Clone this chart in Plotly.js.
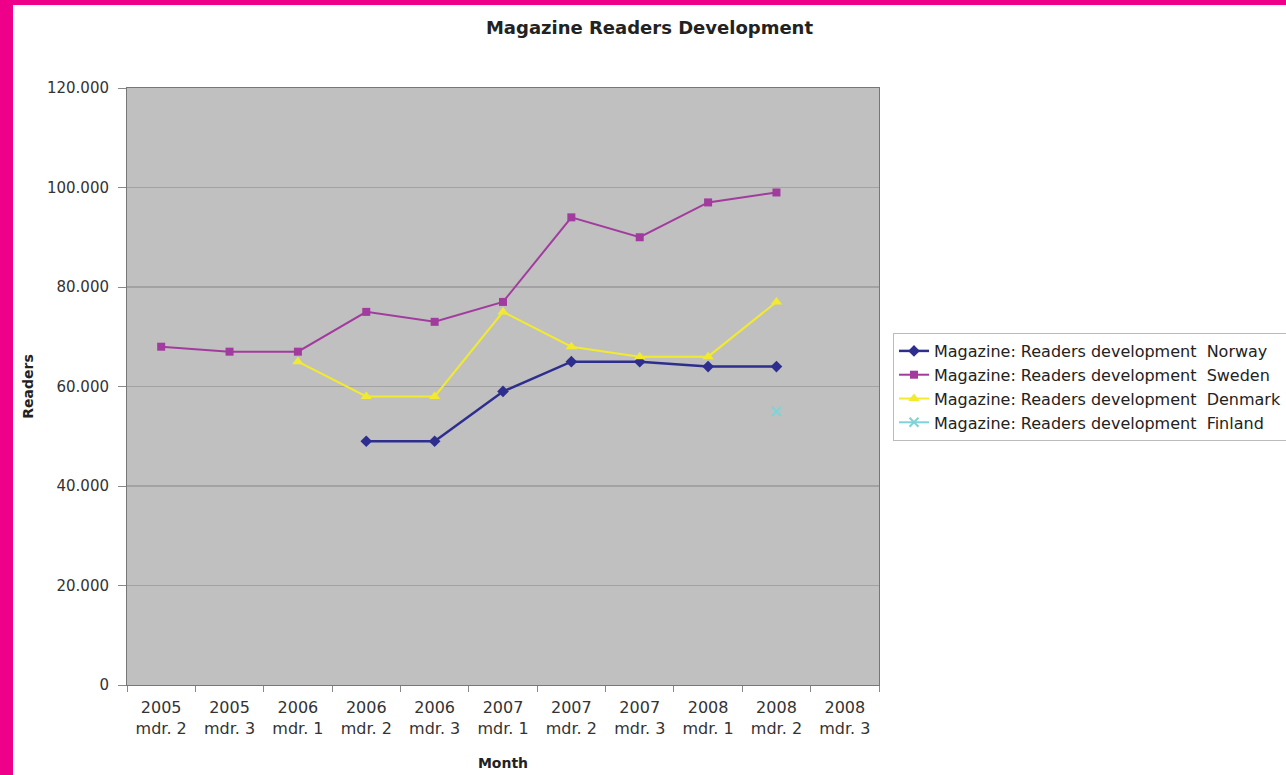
<!DOCTYPE html>
<html>
<head>
<meta charset="utf-8">
<script src="https://cdn.plot.ly/plotly-3.0.1.min.js"></script>
<style>
html,body{margin:0;padding:0;background:#EE0088;width:1286px;height:775px;overflow:hidden;}
#chart{position:absolute;left:13px;top:5px;width:1273px;height:770px;background:#fff;}
</style>
</head>
<body>
<div id="chart"></div>
<script>
const categories = ["2005<br>mdr. 2","2005<br>mdr. 3","2006<br>mdr. 1","2006<br>mdr. 2","2006<br>mdr. 3","2007<br>mdr. 1","2007<br>mdr. 2","2007<br>mdr. 3","2008<br>mdr. 1","2008<br>mdr. 2","2008<br>mdr. 3"];
const norway  = [null, null, null, 49000, 49000, 59000, 65000, 65000, 64000, 64000, null];
const sweden  = [68000, 67000, 67000, 75000, 73000, 77000, 94000, 90000, 97000, 99000, null];
const denmark = [null, null, 65000, 58000, 58000, 75000, 68000, 66000, 66000, 77000, null];
const finland = [null, null, null, null, null, null, null, null, null, 55000, null];
const seriesNames = ["Magazine: Readers development\u00a0 Norway","Magazine: Readers development\u00a0 Sweden","Magazine: Readers development\u00a0 Denmark","Magazine: Readers development\u00a0 Finland"];
const yTicks = [0, 20000, 40000, 60000, 80000, 100000, 120000];

const font = "DejaVu Sans, Verdana, sans-serif";
function tr(y, name, color, symbol, size){
  return {x: categories, y: y, name: name, type: 'scatter', mode: 'lines+markers',
    line: {color: color, width: 2}, marker: {color: color, symbol: symbol, size: size},
    connectgaps: false};
}
const data = [
  tr(norway, seriesNames[0], '#2E2E8E', 'diamond', 9),
  tr(sweden, seriesNames[1], '#A23B9E', 'square', 8),
  tr(denmark, seriesNames[2], '#F2EA2E', 'triangle-up', 10),
  tr(finland, seriesNames[3], '#7FD3D6', 'x-thin-open', 9)
];
data[0].line.width = 2.5;
data[3].marker.line = {color: '#7FD3D6', width: 2};

const layout = {
  width: 1273, height: 770,
  paper_bgcolor: '#ffffff', plot_bgcolor: '#C0C0C0',
  separators: ',.',
  margin: {l: 114, r: 407, t: 83, b: 90, autoexpand: false},
  font: {family: font, color: '#222', size: 14},
  title: {text: '<b>Magazine Readers Development</b>', font: {family: font, size: 18, color: '#222'}, x: 0.5, xref: 'container', xanchor: 'center', y: 0.971, yref: 'container', yanchor: 'middle'},
  xaxis: {
    type: 'category', range: [-0.5, 10.5], tickson: 'boundaries',
    ticks: 'outside', ticklen: 6, tickcolor: '#888',
    showline: true, linecolor: '#777', linewidth: 1, mirror: true,
    showgrid: false, zeroline: false, ticklabelstandoff: 8,
    tickfont: {family: font, size: 16, color: '#333'},
    title: {text: '<b>Month</b>', font: {family: font, size: 14, color: '#222'}, standoff: 21}
  },
  yaxis: {
    range: [0, 120000], tickvals: yTicks, tickformat: ',.0f',
    ticks: 'outside', ticklen: 8, tickcolor: '#888',
    showline: true, linecolor: '#777', linewidth: 1, mirror: true,
    showgrid: true, gridcolor: '#A2A2A2', gridwidth: 1.5, zeroline: false,
    ticklabelstandoff: 6,
    tickfont: {family: font, size: 15, color: '#333'},
    title: {text: '<b>Readers</b>', font: {family: font, size: 14, color: '#222'}, standoff: 10}
  },
  legend: {
    x: 1.0186, y: 0.5896, xanchor: 'left', yanchor: 'top',
    bgcolor: '#ffffff', bordercolor: '#BBBBBB', borderwidth: 1,
    font: {family: font, size: 16, color: '#222'}, itemwidth: 30,
    tracegroupgap: 0
  },
  showlegend: true
};
Plotly.newPlot('chart', data, layout, {displayModeBar: false, staticPlot: true});
</script>
</body>
</html>
